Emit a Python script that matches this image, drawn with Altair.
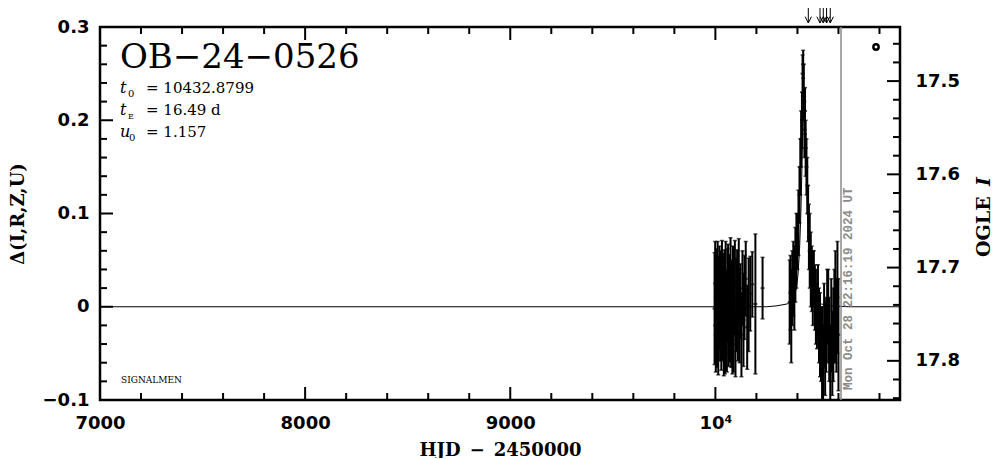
import altair as alt
import pandas as pd

W, H = 800, 373

# ---------------- data ----------------
# season 2023
t1 = [9996, 9999, 10002, 10005, 10008, 10011, 10014, 10017, 10020, 10023,
      10026, 10029, 10032, 10035, 10038, 10041, 10044, 10047, 10050, 10053,
      10056, 10059, 10062, 10065, 10068, 10071, 10074, 10077, 10080, 10083,
      10086, 10089, 10092, 10095, 10098, 10102, 10106, 10110, 10114, 10118,
      10122, 10127, 10132, 10137, 10142, 10148, 10155, 10162, 10170, 10180,
      10195, 10230]
d1 = [-0.002, 0.025, -0.030, 0.012, -0.020, 0.030, -0.038, 0.004, 0.020, -0.018,
      0.010, -0.028, 0.026, -0.008, 0.002, -0.034, 0.016, -0.022, 0.030, -0.006,
      -0.030, 0.012, 0.022, -0.024, 0.006, -0.014, 0.034, -0.010, 0.000, -0.032,
      0.020, -0.020, 0.010, 0.026, -0.040, 0.002, 0.016, -0.018, 0.028, -0.010,
      0.006, -0.030, 0.020, -0.014, 0.010, 0.030, -0.022, 0.002, 0.014, 0.024,
      0.003, 0.020]
e1 = [0.060, 0.045, 0.040, 0.050, 0.045, 0.040, 0.035, 0.050, 0.045, 0.040,
      0.050, 0.040, 0.045, 0.050, 0.055, 0.040, 0.045, 0.050, 0.040, 0.045,
      0.040, 0.050, 0.045, 0.040, 0.050, 0.045, 0.040, 0.055, 0.050, 0.040,
      0.045, 0.050, 0.040, 0.045, 0.035, 0.050, 0.045, 0.040, 0.045, 0.050,
      0.040, 0.045, 0.040, 0.050, 0.045, 0.040, 0.045, 0.050, 0.040, 0.035,
      0.075, 0.033]
# season 2024
t2 = [10362, 10366, 10370, 10375, 10380, 10385, 10390, 10395, 10400, 10405,
      10410, 10414, 10418, 10422, 10425, 10428, 10431, 10434, 10437, 10440,
      10444, 10448, 10452, 10456, 10460, 10465, 10470, 10475, 10480, 10485,
      10490, 10495, 10500, 10505, 10510, 10515, 10520, 10525, 10530, 10535,
      10540, 10545, 10550, 10555, 10560, 10565, 10570, 10575, 10580, 10585,
      10590, 10595, 10600]
d2 = [0.005, 0.015, -0.010, 0.020, 0.030, 0.020, 0.045, 0.060, 0.070, 0.090,
      0.120, 0.150, 0.180, 0.200, 0.250, 0.260, 0.230, 0.190, 0.210, 0.170,
      0.150, 0.130, 0.100, 0.075, 0.060, 0.040, 0.030, 0.020, 0.030, 0.010,
      0.000, -0.010, 0.005, -0.020, -0.030, -0.040, -0.050, -0.060, -0.020, -0.045,
      -0.030, 0.000, -0.010, -0.035, -0.060, -0.020, -0.050, -0.030, -0.010, 0.000,
      -0.020, 0.010, -0.030]
e2 = [0.045, 0.040, 0.050, 0.040, 0.040, 0.045, 0.040, 0.040, 0.030, 0.035,
      0.030, 0.030, 0.030, 0.030, 0.020, 0.015, 0.030, 0.030, 0.025, 0.030,
      0.030, 0.030, 0.030, 0.035, 0.040, 0.040, 0.035, 0.040, 0.030, 0.035,
      0.040, 0.035, 0.040, 0.040, 0.045, 0.040, 0.050, 0.040, 0.045, 0.050,
      0.040, 0.040, 0.050, 0.045, 0.040, 0.050, 0.045, 0.050, 0.050, 0.060,
      0.050, 0.060, 0.060]

# model curve
model_t = [7000, 10250, 10300, 10350, 10370, 10385, 10395, 10403, 10410, 10416,
           10421, 10425, 10429, 10433, 10437, 10441, 10445, 10450, 10456, 10463,
           10471, 10481, 10496, 10516, 10560, 10650, 10900]
model_d = [0.0, 0.0, 0.001, 0.003, 0.006, 0.012, 0.020, 0.035, 0.060, 0.095,
           0.140, 0.180, 0.210, 0.222, 0.210, 0.180, 0.140, 0.095, 0.060, 0.035,
           0.020, 0.012, 0.006, 0.003, 0.001, 0.0, 0.0]

arrow_t = [10453, 10510, 10526, 10542, 10560]
now_t = [10612.43]
now_label = ["Mon Oct 28 22:16:19 2024 UT"]

x_major = [7000, 8000, 9000, 10000]
x_minor = [v for v in range(7200, 10900, 200) if v % 1000]
y_major = [-0.1, 0.0, 0.1, 0.2, 0.3]
y_minor = [round(-0.1 + 0.02 * i, 2) for i in range(21) if i % 5]
m_major = [17.5, 17.6, 17.7, 17.8]
m_minor = [round(17.46 + 0.02 * i, 2) for i in range(20) if round(17.46 + 0.02 * i, 2) not in m_major]

obs = pd.DataFrame({"t": t1 + t2, "d": d1 + d2, "e": e1 + e2})
obs["lo"] = obs["d"] - obs["e"]
obs["hi"] = obs["d"] + obs["e"]
model_df = pd.DataFrame({"t": model_t, "d": model_d})

# ---------------- scales ----------------
xs = alt.Scale(domain=[7000, 10900], nice=False, zero=False)
ys = alt.Scale(domain=[-0.1, 0.3], nice=False, zero=False)
ms = alt.Scale(domain=[17.442, 17.842], reverse=True, nice=False, zero=False)

LAB = dict(labelFont="DejaVu Sans", labelFontWeight="bold", labelFontSize=18,
           labelColor="black", labelFlush=False, ticks=False, domain=False, grid=False)
TIT = dict(titleFont="DejaVu Serif", titleFontWeight="bold", titleFontSize=18,
           titleColor="black")

x_axis = alt.Axis(values=x_major, labelPadding=14, labelBaseline="top", orient="bottom",
                  labelExpr="datum.value == 10000 ? '10\u2074' : format(datum.value, 'd')",
                  title="HJD\u2002\u2212\u20022450000", titleY=50, titleBaseline="middle",
                  **LAB, **TIT)
y_axis = alt.Axis(values=y_major, labelPadding=11, orient="left",
                  labelExpr="datum.value == 0 ? '0' : format(datum.value, '.1f')",
                  title="\u0394(I,R,Z,U)", titleX=-82, titleY=H / 2, titleAngle=270,
                  titleAlign="center", titleBaseline="middle", **LAB, **TIT)
m_axis = alt.Axis(values=m_major, orient="right", format=".1f", labelPadding=15,
                  labelAlign="left", title=None, **LAB)

X = lambda f: alt.X(f, scale=xs, axis=None)
Y = lambda f: alt.Y(f, scale=ys, axis=None)

model = alt.Chart(model_df).mark_line(color="black", strokeWidth=1).encode(
    x=alt.X("t:Q", scale=xs, axis=x_axis), y=alt.Y("d:Q", scale=ys, axis=y_axis))

errbars = alt.Chart(obs).mark_rule(color="black", strokeWidth=2).encode(
    x=X("t:Q"), y=Y("lo:Q"), y2="hi:Q")
cap_lo = alt.Chart(obs).mark_tick(orient="horizontal", size=4, thickness=1.5, color="black").encode(
    x=X("t:Q"), y=Y("lo:Q"))
cap_hi = alt.Chart(obs).mark_tick(orient="horizontal", size=4, thickness=1.5, color="black").encode(
    x=X("t:Q"), y=Y("hi:Q"))
center = alt.Chart(obs).mark_tick(orient="horizontal", size=4, thickness=2, color="black").encode(
    x=X("t:Q"), y=Y("d:Q"))


def xticks(vals, length):
    df = pd.DataFrame({"v": vals})
    bot = alt.Chart(df).mark_rule(color="black", strokeWidth=2).encode(
        x=X("v:Q"), y=alt.value(H), y2=alt.value(H - length))
    top = alt.Chart(df).mark_rule(color="black", strokeWidth=2).encode(
        x=X("v:Q"), y=alt.value(0), y2=alt.value(length))
    return [bot, top]


def yticks(vals, length):
    df = pd.DataFrame({"v": vals})
    return [alt.Chart(df).mark_rule(color="black", strokeWidth=2).encode(
        y=Y("v:Q"), x=alt.value(0), x2=alt.value(length))]


def mticks(vals, length, axis):
    df = pd.DataFrame({"v": vals})
    return alt.Chart(df).mark_rule(color="black", strokeWidth=2).encode(
        y=alt.Y("v:Q", scale=ms, axis=axis), x=alt.value(W - length), x2=alt.value(W))


now_df = pd.DataFrame({"t": now_t, "label": now_label})
vline = alt.Chart(now_df).mark_rule(color="#8c8c8c", strokeWidth=1.5).encode(
    x=X("t:Q"), y=alt.value(0), y2=alt.value(H))
now_text = alt.Chart(now_df).mark_text(
    angle=270, align="left", baseline="middle", dy=7, font="Liberation Mono",
    fontWeight="bold", fontSize=12.5, color="#8c8c8c").encode(
    x=X("t:Q"), y=alt.value(H - 10), text="label:N")

arr_df = pd.DataFrame({"t": arrow_t})
arrows = alt.Chart(arr_df).mark_rule(color="black", strokeWidth=1).encode(
    x=X("t:Q"), y=alt.value(-27), y2=alt.value(-4))
heads = alt.Chart(arr_df).mark_point(shape="M-1,-2L0,0L1,-2", filled=False, size=40,
                                     color="black", strokeWidth=1, opacity=1).encode(
    x=X("t:Q"), y=alt.value(-4))


def text(s, x, y, size, font="DejaVu Serif", style="normal", weight="normal",
         angle=0, align="left", baseline="alphabetic", color="black"):
    kw = dict(font=font, fontSize=size, fontStyle=style, fontWeight=weight,
              align=align, baseline=baseline, color=color)
    if angle:
        kw["angle"] = angle
    return alt.Chart(pd.DataFrame({"s": [s]})).mark_text(**kw).encode(
        x=alt.value(x), y=alt.value(y), text="s:N")


texts = [
    text("OB\u221224\u22120526", 20, 41, 34),
    text("t", 20, 66, 16, style="italic"),
    text("0", 28, 70, 10),
    text("= 10432.8799", 46, 66, 15),
    text("t", 20, 88, 16, style="italic"),
    text("E", 28, 92, 8),
    text("= 16.49  d", 46, 88, 15),
    text("u", 20, 110, 16, style="italic"),
    text("0", 29, 114, 10),
    text("= 1.157", 46, 110, 15),
    text("SIGNALMEN", 21, 356, 9),
    text("OGLE", 884, 230, 19, weight="bold", angle=270, baseline="middle"),
    text("I", 884, 159, 19, weight="bold", style="italic", angle=270, baseline="middle"),
]

circle = alt.Chart(pd.DataFrame({"s": [1]})).mark_point(
    shape="circle", filled=False, size=28, strokeWidth=2.5, color="black", opacity=1).encode(
    x=alt.value(776), y=alt.value(20))

layers = ([model, mticks(m_major, 13, m_axis), mticks(m_minor, 7, None),
           errbars, cap_lo, cap_hi, center]
          + xticks(x_major, 13) + xticks(x_minor, 7)
          + yticks(y_major, 13) + yticks(y_minor, 7)
          + [vline, now_text, arrows, heads, circle] + texts)

chart = alt.layer(*layers).resolve_scale(x="independent", y="independent").properties(
    width=W, height=H,
    autosize=alt.AutoSizeParams(type="none"),
    padding={"left": 92, "top": 19, "right": 96, "bottom": 58},
    background="white",
).configure_view(stroke="black", strokeWidth=2.5)

chart.save("out.html", embed_options={"renderer": "svg", "actions": False})
